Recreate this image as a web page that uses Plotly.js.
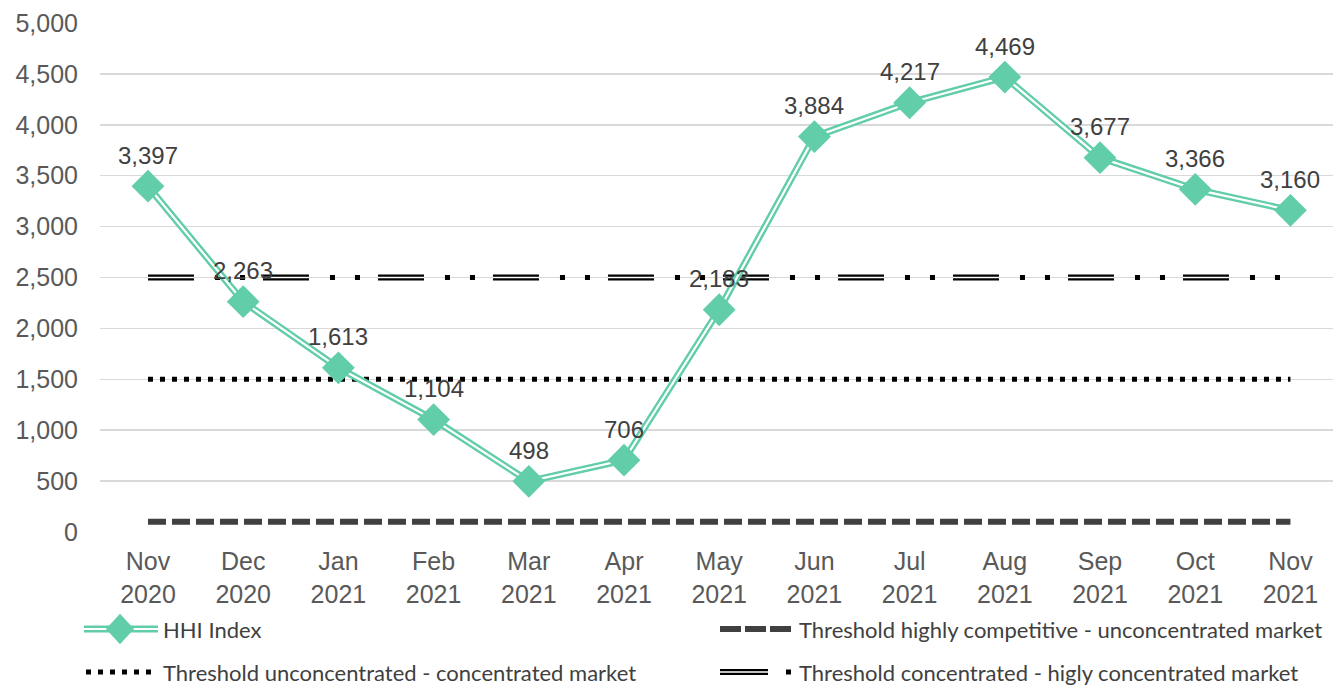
<!DOCTYPE html>
<html>
<head>
<meta charset="utf-8">
<script src="https://cdn.plot.ly/plotly-3.0.1.min.js"></script>
<style>
  html, body { margin: 0; padding: 0; background: #ffffff; }
  #chart { width: 1333px; height: 686px; }
</style>
</head>
<body>
<div id="chart"></div>
<script>
// Monthly HHI index, Nov 2020 - Nov 2021, with market concentration thresholds
const months = ['Nov<br>2020', 'Dec<br>2020', 'Jan<br>2021', 'Feb<br>2021', 'Mar<br>2021', 'Apr<br>2021',
                'May<br>2021', 'Jun<br>2021', 'Jul<br>2021', 'Aug<br>2021', 'Sep<br>2021', 'Oct<br>2021', 'Nov<br>2021'];
const hhi = [3397, 2263, 1613, 1104, 498, 706, 2183, 3884, 4217, 4469, 3677, 3366, 3160];

const thresholdCompetitive = 100;    // highly competitive / unconcentrated
const thresholdUnconcentrated = 1500; // unconcentrated / concentrated
const thresholdConcentrated = 2500;   // concentrated / highly concentrated

const seriesNames = [
  'HHI Index',
  'Threshold highly competitive - unconcentrated market',
  'Threshold unconcentrated - concentrated market',
  'Threshold concentrated - higly concentrated market'
];

const TEAL = '#62CDA9';
const fill = v => months.map(() => v);

// plot box in pixels, used to place the hand-built legend
const W = 1333, H = 686, L = 100, R = 1333, T = 23, B = 532;
const px = p => (p - L) / (R - L);
const py = p => (B - p) / (B - T);

const traces = [
  // threshold 100: heavy grey dashes
  { x: months, y: fill(thresholdCompetitive), mode: 'lines',
    line: { color: '#404040', width: 6, dash: '18px,6px' } },
  // threshold 1500: round dots
  { x: months, y: fill(thresholdUnconcentrated), mode: 'lines',
    line: { color: '#000000', width: 5, dash: '5px,7px' } },
  // threshold 2500: hollow long dashes + two dots
  { x: months, y: fill(thresholdConcentrated), mode: 'lines',
    line: { color: '#000000', width: 6, dash: '46px,69px' } },
  { x: months, y: fill(thresholdConcentrated), mode: 'lines',
    line: { color: '#ffffff', width: 1.5, dash: '46px,69px' } },
  { x: months, y: fill(thresholdConcentrated), mode: 'lines',
    line: { color: '#000000', width: 5, dash: '0px,67px,5px,20px,5px,18px' } },
  // HHI: double (outlined) teal line with diamond markers
  { x: months, y: hhi, mode: 'lines', line: { color: TEAL, width: 7 } },
  { x: months, y: hhi, mode: 'lines', line: { color: '#ffffff', width: 2.2 } },
  { x: months, y: hhi, mode: 'markers',
    marker: { symbol: 'diamond', size: 22, color: TEAL, line: { color: TEAL, width: 3 } } }
];

const labelFont = { family: 'Liberation Sans, Arial, sans-serif', size: 24, color: '#404040' };
const annotations = hhi.map((v, i) => ({
  x: months[i], y: v, xref: 'x', yref: 'y', text: v.toLocaleString('en-US'),
  showarrow: false, yshift: 31, font: labelFont
}));

// legend
const legendFont = { family: 'Lato, Open Sans, sans-serif', size: 22, color: '#404040' };
const legendRows = [629, 672];
const legendText = [
  { x: 161, y: legendRows[0], t: seriesNames[0] },
  { x: 797, y: legendRows[0], t: seriesNames[1] },
  { x: 161, y: legendRows[1], t: seriesNames[2] },
  { x: 797, y: legendRows[1], t: seriesNames[3] }
];
legendText.forEach(o => annotations.push({
  xref: 'paper', yref: 'paper', x: px(o.x), y: py(o.y), xanchor: 'left', yanchor: 'middle',
  text: o.t, showarrow: false, font: legendFont
}));

const seg = (x0, x1, y, line) => ({ type: 'line', xref: 'paper', yref: 'paper',
  x0: px(x0), x1: px(x1), y0: py(y), y1: py(y), line });
const dcx = 120, dcy = legendRows[0], dw = 12, dh = 13;
const shapes = [
  seg(84, 158, legendRows[0], { color: TEAL, width: 7 }),
  seg(84, 158, legendRows[0], { color: '#ffffff', width: 2.2 }),
  { type: 'path', xref: 'paper', yref: 'paper',
    path: `M${px(dcx - dw)},${py(dcy)} L${px(dcx)},${py(dcy - dh)} L${px(dcx + dw)},${py(dcy)} L${px(dcx)},${py(dcy + dh)} Z`,
    fillcolor: TEAL, line: { color: TEAL, width: 3 } },
  seg(86, 152, legendRows[1], { color: '#000000', width: 5, dash: '5px,7px' }),
  seg(720, 791, legendRows[0], { color: '#404040', width: 6, dash: '21px,4px' }),
  seg(720, 768, legendRows[1], { color: '#000000', width: 6 }),
  seg(720, 768, legendRows[1], { color: '#ffffff', width: 1.5 }),
  seg(786, 791, legendRows[1], { color: '#000000', width: 5 })
];

const tickFont = { family: 'Liberation Sans, Arial, sans-serif', size: 25, color: '#595959' };
const layout = {
  width: W, height: H,
  margin: { l: L, r: W - R, t: T, b: H - B, pad: 0 },
  paper_bgcolor: '#ffffff', plot_bgcolor: '#ffffff',
  showlegend: false,
  xaxis: {
    type: 'category', categoryorder: 'array', categoryarray: months,
    range: [-0.504, 12.447], showgrid: false, zeroline: false, showline: false, ticks: '',
    ticklabelstandoff: 12,
    tickfont: tickFont
  },
  yaxis: {
    range: [0, 5000], dtick: 500, tickformat: ',d',
    showgrid: true, gridcolor: '#d9d9d9', gridwidth: 1.5, zeroline: false, showline: false, ticks: '',
    ticklabelstandoff: 21,
    tickfont: tickFont
  },
  annotations, shapes
};

Plotly.newPlot('chart', traces, layout, { staticPlot: true, displayModeBar: false });
</script>
</body>
</html>
